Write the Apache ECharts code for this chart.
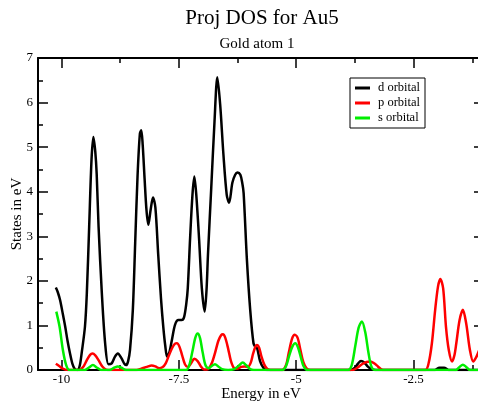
<!DOCTYPE html>
<html><head><meta charset="utf-8">
<script src="https://cdn.jsdelivr.net/npm/echarts@6/dist/echarts.min.js"></script>
<style>html,body{margin:0;padding:0;background:#fff}#c{width:478px;height:405px}</style>
</head><body><div id="c"></div>
<script>
var FONT = 'Liberation Serif';
var xMajorTicks = [-10, -7.5, -5, -2.5];
var xMinorTicks = [-8.75, -6.25, -3.75, -1.25];
var seriesNames = ['d orbital', 'p orbital', 's orbital'];
var seriesColors = ['#000000', '#ff0000', '#00ee00'];

var dOrbital = [[-10.12,1.85],[-10.08,1.75],[-10.03,1.57],[-9.97,1.25],[-9.92,0.97],[-9.87,0.65],[-9.82,0.38],[-9.77,0.15],[-9.72,0.03],[-9.66,0],[-9.61,0.1],[-9.57,0.38],[-9.5,0.97],[-9.46,1.72],[-9.41,3.22],[-9.36,4.72],[-9.32,5.23],[-9.28,4.9],[-9.25,4.4],[-9.21,3.22],[-9.14,1.72],[-9.07,0.6],[-9.0,0.13],[-8.93,0.15],[-8.86,0.3],[-8.8,0.37],[-8.72,0.26],[-8.66,0.14],[-8.62,0.11],[-8.58,0.2],[-8.54,0.45],[-8.48,1.35],[-8.43,2.85],[-8.38,4.34],[-8.33,5.3],[-8.3,5.38],[-8.27,5.05],[-8.23,4.3],[-8.19,3.6],[-8.15,3.26],[-8.1,3.6],[-8.05,3.87],[-8.0,3.65],[-7.94,2.6],[-7.88,1.6],[-7.83,0.95],[-7.79,0.55],[-7.75,0.3],[-7.7,0.4],[-7.64,0.72],[-7.58,1.02],[-7.51,1.12],[-7.44,1.12],[-7.39,1.18],[-7.34,1.5],[-7.31,1.83],[-7.26,2.96],[-7.21,3.93],[-7.17,4.34],[-7.13,3.95],[-7.07,2.96],[-7.01,1.83],[-6.95,1.31],[-6.91,1.8],[-6.88,2.58],[-6.81,4.08],[-6.74,5.58],[-6.68,6.57],[-6.62,5.96],[-6.55,4.83],[-6.48,3.93],[-6.43,3.75],[-6.36,4.2],[-6.3,4.38],[-6.25,4.43],[-6.19,4.38],[-6.15,4.2],[-6.12,3.97],[-6.05,2.47],[-5.98,1.35],[-5.91,0.6],[-5.87,0.52],[-5.83,0.48],[-5.77,0.2],[-5.7,0.05],[-5.62,0],[-4.5,0],[-3.85,0],[-3.75,0.05],[-3.68,0.15],[-3.62,0.2],[-3.55,0.17],[-3.48,0.08],[-3.4,0.02],[-3.3,0],[-2.05,0],[-1.95,0.05],[-1.85,0.05],[-1.75,0],[-1.0,0]];

var pOrbital = [[-10.12,0.14],[-10.05,0.09],[-9.97,0.03],[-9.88,0],[-9.62,0],[-9.53,0.08],[-9.46,0.22],[-9.39,0.34],[-9.34,0.37],[-9.28,0.33],[-9.21,0.22],[-9.13,0.08],[-9.05,0.01],[-8.95,0],[-8.4,0],[-8.3,0.03],[-8.18,0.07],[-8.08,0.1],[-8.0,0.08],[-7.92,0.04],[-7.85,0.06],[-7.78,0.15],[-7.71,0.33],[-7.64,0.5],[-7.58,0.59],[-7.54,0.6],[-7.49,0.53],[-7.43,0.33],[-7.37,0.13],[-7.31,0.07],[-7.24,0.15],[-7.17,0.25],[-7.1,0.2],[-7.03,0.08],[-6.96,0.01],[-6.88,0.02],[-6.8,0.15],[-6.73,0.38],[-6.66,0.65],[-6.6,0.78],[-6.56,0.8],[-6.51,0.72],[-6.45,0.48],[-6.39,0.2],[-6.32,0.04],[-6.25,0.03],[-6.17,0.07],[-6.1,0.08],[-6.03,0.07],[-5.97,0.16],[-5.92,0.36],[-5.87,0.52],[-5.84,0.56],[-5.79,0.5],[-5.74,0.3],[-5.68,0.12],[-5.62,0.03],[-5.55,0],[-5.3,0],[-5.22,0.1],[-5.16,0.38],[-5.09,0.7],[-5.03,0.79],[-4.97,0.72],[-4.91,0.45],[-4.85,0.18],[-4.78,0.04],[-4.7,0],[-3.8,0],[-3.7,0.05],[-3.6,0.13],[-3.5,0.18],[-3.42,0.19],[-3.34,0.15],[-3.26,0.08],[-3.18,0.01],[-3.1,0],[-2.25,0],[-2.18,0.15],[-2.11,0.6],[-2.04,1.35],[-1.98,1.87],[-1.93,2.04],[-1.87,1.83],[-1.81,0.97],[-1.75,0.45],[-1.68,0.19],[-1.63,0.33],[-1.59,0.6],[-1.52,1.12],[-1.45,1.35],[-1.38,1.05],[-1.3,0.45],[-1.23,0.19],[-1.16,0.3],[-1.1,0.45],[-1.0,0.7]];

var sOrbital = [[-10.11,1.31],[-10.04,0.97],[-9.97,0.45],[-9.9,0.11],[-9.83,0],[-9.5,0],[-9.42,0.05],[-9.33,0.11],[-9.24,0.05],[-9.15,0],[-8.98,0],[-8.88,0.05],[-8.8,0.08],[-8.72,0.05],[-8.62,0],[-7.35,0],[-7.28,0.1],[-7.21,0.42],[-7.15,0.72],[-7.1,0.82],[-7.05,0.72],[-6.99,0.38],[-6.93,0.1],[-6.86,0.04],[-6.8,0.09],[-6.73,0.13],[-6.66,0.08],[-6.58,0.02],[-6.45,0],[-6.32,0.02],[-6.22,0.1],[-6.14,0.17],[-6.06,0.1],[-5.98,0.02],[-5.9,0],[-5.3,0],[-5.22,0.08],[-5.15,0.32],[-5.08,0.53],[-5.02,0.6],[-4.96,0.5],[-4.9,0.28],[-4.84,0.08],[-4.76,0],[-3.9,0],[-3.82,0.1],[-3.74,0.55],[-3.67,0.95],[-3.6,1.09],[-3.53,0.85],[-3.46,0.38],[-3.4,0.08],[-3.33,0],[-1.6,0],[-1.52,0.07],[-1.45,0.12],[-1.38,0.07],[-1.3,0],[-1.0,0]];

var seriesData = [dOrbital, pOrbital, sOrbital];

var chart = echarts.init(document.getElementById('c'), null, {renderer: 'canvas'});
var lineBlack = {color: '#000', width: 2};
var tickStyle = {color: '#000', width: 1.5};

function xAx(pos, vals, len, showLine, showLabel, name) {
  return {
    type: 'value', min: -10.5, max: -1, position: pos,
    axisLine: {show: showLine, onZero: false, lineStyle: lineBlack},
    axisTick: {show: true, inside: true, length: len, customValues: vals, lineStyle: tickStyle},
    axisLabel: {show: showLabel, customValues: vals, margin: 3, fontFamily: FONT, fontSize: 13, color: '#000'},
    splitLine: {show: false},
    name: name || '', nameLocation: 'middle', nameGap: 17, nameMoveOverlap: false,
    nameTextStyle: {fontFamily: FONT, fontSize: 15, color: '#000'}
  };
}
function yAx(pos, showLabel, name) {
  return {
    type: 'value', min: 0, max: 7, interval: 1, position: pos,
    axisLine: {show: true, onZero: false, lineStyle: lineBlack},
    axisTick: {show: true, inside: true, length: 10, lineStyle: tickStyle},
    minorTick: {show: true, splitNumber: 2, length: 5, lineStyle: tickStyle},
    axisLabel: {show: showLabel, margin: 5, fontFamily: FONT, fontSize: 13, color: '#000'},
    splitLine: {show: false},
    name: name || '', nameLocation: 'middle', nameGap: 13, nameMoveOverlap: false,
    nameTextStyle: {fontFamily: FONT, fontSize: 15, color: '#000'}
  };
}

var series = seriesNames.map(function (n, i) {
  return {
    name: n, type: 'line', xAxisIndex: 0, yAxisIndex: 0,
    data: seriesData[i], smooth: 0.3, symbol: 'none', clip: true,
    lineStyle: {color: seriesColors[i], width: 2.5},
    itemStyle: {color: seriesColors[i]},
    z: 2 + i
  };
});

chart.setOption({
  animation: false,
  backgroundColor: '#fff',
  title: [
    {text: 'Proj DOS for Au5', left: 262, top: 8, textAlign: 'center', padding: 0,
     textStyle: {fontFamily: FONT, fontSize: 21, fontWeight: 'normal', color: '#000'}},
    {text: 'Gold atom 1', left: 257, top: 37, textAlign: 'center', padding: 0,
     textStyle: {fontFamily: FONT, fontSize: 15, fontWeight: 'normal', color: '#000'}}
  ],
  grid: {left: 38, top: 58, width: 446, height: 312, containLabel: false, outerBoundsMode: 'none'},
  xAxis: [
    xAx('bottom', xMajorTicks, 10, true, true, 'Energy in eV'),
    xAx('top', xMajorTicks, 10, true, false),
    xAx('bottom', xMinorTicks, 5, false, false),
    xAx('top', xMinorTicks, 5, false, false)
  ],
  yAxis: [
    yAx('left', true, 'States in eV'),
    yAx('right', false)
  ],
  legend: {
    orient: 'vertical', left: 350, top: 78, padding: [3, 5, 3, 5],
    itemGap: 1, itemWidth: 15, itemHeight: 3, icon: 'rect',
    borderColor: '#000', borderWidth: 1, backgroundColor: '#fff', borderRadius: 0,
    textStyle: {fontFamily: FONT, fontSize: 12.5, lineHeight: 14, color: '#000', padding: [0, 0, 0, 3]},
    data: seriesNames
  },
  series: series
});
</script></body></html>
